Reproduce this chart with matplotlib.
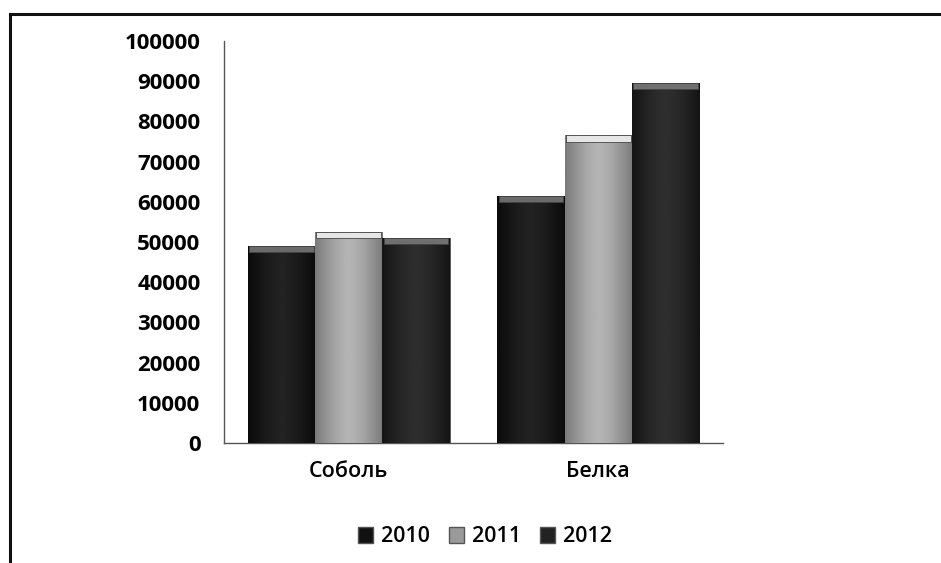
import numpy as np
import matplotlib
matplotlib.use('Agg')
import matplotlib.pyplot as plt
from matplotlib.lines import Line2D
from matplotlib.patches import Patch

plt.rcParams['font.family'] = ['Open Sans', 'DejaVu Sans']

# data
categories = ['Соболь', 'Белка']
years = ['2010', '2011', '2012']
v2010 = [49000, 61500]
v2011 = [52500, 76500]
v2012 = [51000, 89500]
yticks = [0, 10000, 20000, 30000, 40000, 50000, 60000, 70000, 80000, 90000, 100000]

series = [v2010, v2011, v2012]
edge_cols = ['#0a0a0a', '#7a7a7a', '#141414']
mid_cols = ['#222222', '#b4b4b4', '#2e2e2e']
cap_cols = ['#6a6a6a', '#e6e6e6', '#707070']
legend_cols = ['#111111', '#9a9a9a', '#222222']

fig = plt.figure(figsize=(9.41, 5.63), dpi=100)
ax = fig.add_axes([224 / 941, 1 - 443 / 563, (723 - 224) / 941, (443 - 41) / 563])

x = np.arange(len(categories))
w = 0.27
for i, vals in enumerate(series):
    pos = x + (i - 1) * w
    bars = ax.bar(pos, vals, w, color=edge_cols[i], edgecolor='#555555', linewidth=0.6, zorder=2)
    # cylinder-like shading across each bar
    t = np.linspace(-1, 1, 64)
    shade = 1 - np.abs(t) ** 1.5
    cmap = matplotlib.colors.LinearSegmentedColormap.from_list('s%d' % i, [edge_cols[i], mid_cols[i]])
    for b in bars:
        im = ax.imshow(shade[np.newaxis, :], cmap=cmap, aspect='auto', vmin=0, vmax=1,
                       extent=[b.get_x(), b.get_x() + b.get_width(), 0, b.get_height()], zorder=3)
        im.set_clip_path(b)
    # light top face
    ax.bar(pos, [1500] * len(vals), w * 0.96, bottom=np.array(vals) - 1500,
           color=cap_cols[i], edgecolor='#444444', linewidth=0.6, zorder=4)

ax.set_xlim(-0.5, 1.5)
ax.set_ylim(0, 100000)
ax.set_yticks(yticks)
ax.set_yticklabels([str(v) for v in yticks], fontsize=16, fontweight='bold')
ax.set_xticks(x)
ax.set_xticklabels(categories, fontsize=15.5, fontweight='semibold')
ax.tick_params(axis='y', length=0, pad=17)
ax.tick_params(axis='x', length=0, pad=13)
for s in ['top', 'right']:
    ax.spines[s].set_visible(False)
for s in ['left', 'bottom']:
    ax.spines[s].set_color('#555555')
    ax.spines[s].set_linewidth(1.0)

handles = [Patch(facecolor=legend_cols[i], edgecolor='#555555', label=years[i]) for i in range(3)]
fig.legend(handles=handles, loc='center', bbox_to_anchor=(485 / 941, 1 - 537 / 563), ncol=3,
           frameon=False, prop={'size': 15.5, 'weight': 'semibold'}, handlelength=0.7,
           handleheight=0.7, handletextpad=0.4, columnspacing=0.85)

# scanned frame: top and left lines only
fig.add_artist(Line2D([10 / 941, 1], [1 - 14 / 563] * 2, color='#111111', lw=2.2))
fig.add_artist(Line2D([10 / 941] * 2, [0, 1 - 14 / 563], color='#111111', lw=2.2))

fig.savefig('out.png', dpi=100, facecolor='white')
